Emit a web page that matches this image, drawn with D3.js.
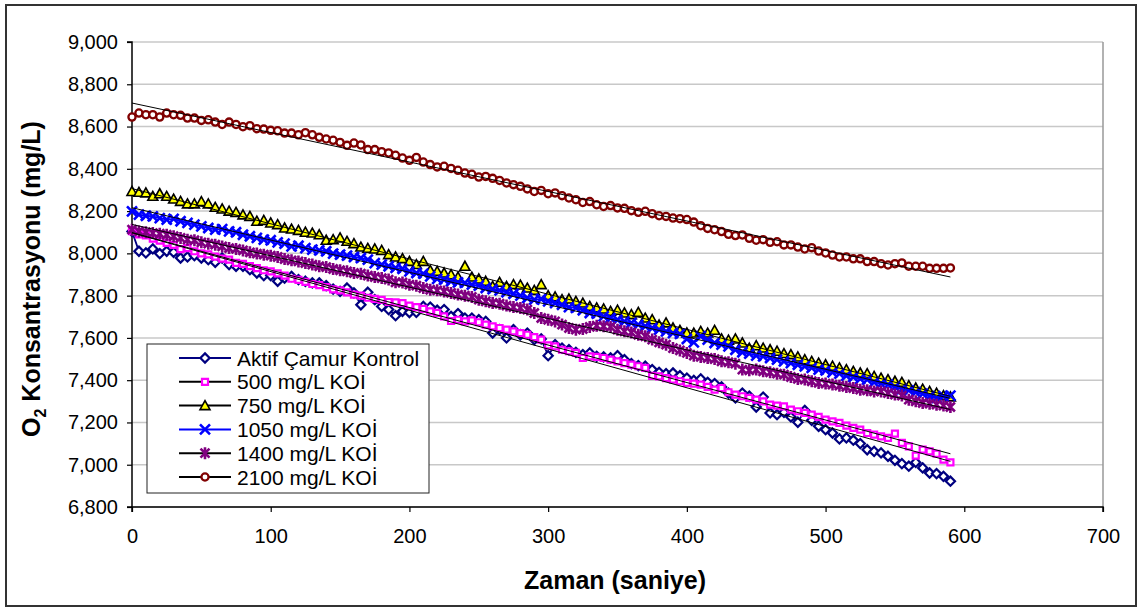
<!DOCTYPE html>
<html>
<head>
<meta charset="utf-8">
<script src="https://cdn.jsdelivr.net/npm/d3@7/dist/d3.min.js"></script>
<style>
  body { margin: 0; background: #fff; }
  text { font-family: Arial, "Liberation Sans", sans-serif; }
</style>
</head>
<body>
<script>
// zaman (saniye), her 5 saniyede bir okuma
var zaman = [0,5,10,15,20,25,30,35,40,45,50,55,60,65,70,75,80,85,90,95,
  100,105,110,115,120,125,130,135,140,145,150,155,160,165,170,175,180,185,190,195,
  200,205,210,215,220,225,230,235,240,245,250,255,260,265,270,275,280,285,290,295,
  300,305,310,315,320,325,330,335,340,345,350,355,360,365,370,375,380,385,390,395,
  400,405,410,415,420,425,430,435,440,445,450,455,460,465,470,475,480,485,490,495,
  500,505,510,515,520,525,530,535,540,545,550,555,560,565,570,575,580,585,590];

var aktif = [8104,8010,8002,8021,7999,8010,8005,7978,7983,7989,7978,7970,7958,7978,7947,7939,7939,7923,7907,7895,
  7895,7868,7883,7891,7876,7868,7860,7860,7847,7831,7820,7836,7813,7757,7816,7781,7749,7734,7705,7726,
  7720,7721,7749,7746,7731,7734,7702,7715,7694,7694,7686,7678,7623,7639,7600,7639,7615,7623,7592,7595,
  7516,7568,7552,7544,7532,7521,7529,7513,7510,7505,7516,7497,7478,7469,7466,7450,7437,7431,7434,7421,
  7410,7399,7406,7390,7384,7368,7339,7316,7339,7324,7273,7320,7245,7237,7248,7226,7201,7257,7210,7182,
  7166,7150,7122,7127,7116,7100,7071,7063,7056,7040,7021,7005,6993,7011,6985,6961,6958,6945,6922];

var koi500 = [8105,8090,8085,8070,8060,8050,8040,8020,8025,8010,8000,7995,7985,7975,7970,7955,7950,7940,7930,7920,
  7915,7905,7895,7880,7875,7865,7855,7850,7840,7830,7825,7815,7805,7800,7790,7785,7780,7770,7768,7765,
  7753,7746,7737,7726,7718,7702,7680,7686,7678,7683,7674,7663,7655,7647,7639,7631,7623,7615,7604,7592,
  7565,7560,7544,7537,7529,7505,7513,7510,7505,7497,7489,7481,7474,7466,7458,7420,7418,7410,7403,7395,
  7387,7384,7379,7368,7355,7363,7343,7332,7324,7316,7308,7300,7284,7280,7276,7261,7253,7245,7237,7226,
  7213,7205,7198,7185,7174,7166,7150,7142,7134,7127,7147,7103,7087,7043,7071,7063,7052,7024,7011];

var koi750 = [8293,8289,8286,8270,8282,8270,8257,8246,8234,8234,8245,8234,8218,8210,8200,8194,8182,8175,8152,8156,
  8144,8136,8120,8115,8109,8100,8096,8088,8062,8065,8073,8057,8046,8030,8024,8021,8014,7994,7983,7975,
  7962,7947,7962,7920,7915,7907,7899,7888,7939,7888,7879,7868,7844,7863,7844,7852,7850,7836,7825,7852,
  7800,7794,7781,7784,7773,7765,7749,7742,7737,7726,7731,7718,7710,7721,7694,7686,7661,7671,7647,7636,
  7624,7623,7631,7623,7636,7595,7589,7595,7576,7552,7563,7552,7544,7537,7526,7521,7510,7497,7489,7481,
  7473,7466,7458,7450,7442,7434,7431,7418,7410,7403,7395,7390,7374,7363,7358,7347,7339,7327,7321];

var koi1050 = [8199,8183,8178,8175,8167,8160,8163,8152,8144,8136,8128,8120,8112,8115,8104,8100,8088,8081,8073,8065,
  8062,8052,8046,8033,8036,8025,8018,8014,8010,7999,7994,7989,7983,7978,7970,7954,7947,7939,7931,7927,
  7915,7907,7904,7891,7879,7876,7868,7863,7860,7852,7847,7836,7831,7825,7816,7809,7800,7789,7781,7784,
  7773,7765,7757,7746,7742,7731,7718,7715,7702,7694,7686,7678,7671,7663,7655,7647,7639,7631,7623,7619,
  7595,7579,7608,7592,7576,7568,7560,7544,7532,7526,7516,7513,7505,7497,7489,7481,7473,7466,7458,7450,
  7447,7437,7431,7421,7415,7406,7403,7390,7384,7379,7368,7358,7352,7343,7336,7324,7316,7324,7327];

var koi1400 = [8112,8104,8100,8096,8093,8088,8081,8073,8065,8062,8052,8046,8041,8033,8025,8021,8014,8005,7999,7994,
  7989,7983,7973,7967,7962,7954,7947,7939,7935,7926,7920,7915,7907,7904,7895,7888,7883,7876,7863,7862,
  7852,7847,7836,7828,7825,7820,7813,7805,7800,7794,7781,7773,7765,7762,7753,7746,7742,7734,7718,7694,
  7686,7678,7663,7647,7639,7642,7652,7658,7655,7652,7639,7631,7626,7615,7608,7592,7579,7568,7552,7541,
  7529,7516,7510,7505,7500,7489,7485,7478,7450,7447,7450,7442,7437,7431,7426,7415,7406,7403,7395,7387,
  7384,7379,7374,7368,7363,7355,7352,7347,7347,7339,7332,7327,7308,7300,7292,7289,7284,7280,7273];

var koi2100 = [8645,8664,8656,8656,8645,8664,8656,8653,8640,8640,8629,8632,8621,8610,8621,8610,8599,8604,8590,8588,
  8582,8580,8569,8569,8561,8571,8561,8549,8541,8535,8525,8511,8522,8513,8491,8491,8481,8475,8464,8451,
  8440,8454,8432,8420,8409,8412,8402,8393,8380,8374,8361,8364,8355,8345,8333,8325,8317,8305,8293,8298,
  8282,8286,8273,8262,8254,8241,8245,8230,8222,8226,8215,8213,8202,8194,8199,8188,8178,8175,8167,8164,
  8160,8148,8131,8118,8112,8103,8090,8084,8087,8071,8062,8065,8052,8055,8040,8040,8030,8021,8027,8011,
  8002,7992,7983,7983,7974,7974,7961,7961,7951,7945,7951,7955,7939,7939,7939,7929,7929,7929,7931];

var seriAdlari = ["Aktif Çamur Kontrol", "500 mg/L KOİ", "750 mg/L KOİ", "1050 mg/L KOİ", "1400 mg/L KOİ", "2100 mg/L KOİ"];
var yTikler = [6800,7000,7200,7400,7600,7800,8000,8200,8400,8600,8800,9000];
var xTikler = [0,100,200,300,400,500,600,700];

// görünüm
var width = 1142, height = 608;
var alan = { sol: 132, sag: 1103, ust: 42, alt: 507 };

var seriler = [
  { veri: aktif,   isaret: "elmas",  renk: "#000080", dolgu: "#fff",    kalin: 2.2, cizgi: "#000080", seriCizgi: true },
  { veri: koi500,  isaret: "kare",   renk: "#ff00ff", dolgu: "#fff",    kalin: 2.2, cizgi: "#000",    seriCizgi: false },
  { veri: koi750,  isaret: "ucgen",  renk: "#000",    dolgu: "#ffff00", kalin: 1.6, cizgi: "#000",    seriCizgi: false },
  { veri: koi1050, isaret: "carpi",  renk: "#0000ff", dolgu: "none",    kalin: 2.6, cizgi: "#0000ff", seriCizgi: true },
  { veri: koi1400, isaret: "yildiz", renk: "#800080", dolgu: "none",    kalin: 2.6, cizgi: "#000",    seriCizgi: false },
  { veri: koi2100, isaret: "daire",  renk: "#800000", dolgu: "#fff",    kalin: 2.3, cizgi: "#000",    seriCizgi: false }
];

var isaretYollari = {
  elmas:  "M0,-4.6L4.6,0L0,4.6L-4.6,0Z",
  kare:   "M-3,-3H3V3H-3Z",
  ucgen:  "M0,-5L5,4H-5Z",
  carpi:  "M-5,-5L5,5M5,-5L-5,5",
  yildiz: "M-4.5,-4.5L4.5,4.5M4.5,-4.5L-4.5,4.5M0,-6V6",
  daire:  "M3.6,0A3.6,3.6 0 1,1 -3.6,0A3.6,3.6 0 1,1 3.6,0Z"
};

var svg = d3.select("body").append("svg")
  .attr("width", width)
  .attr("height", height);

svg.append("rect").attr("width", width).attr("height", height).attr("fill", "#fff");

// dış çerçeve
svg.append("rect")
  .attr("x", 6).attr("y", 5)
  .attr("width", 1130).attr("height", 601)
  .attr("fill", "none").attr("stroke", "#333").attr("stroke-width", 2);

var escalaX = d3.scaleLinear().domain([0, 700]).range([alan.sol, alan.sag]);
var escalaY = d3.scaleLinear().domain([6800, 9000]).range([alan.alt, alan.ust]);

// ızgara çizgileri
svg.append("g").selectAll("line")
  .data(yTikler)
  .join("line")
  .attr("x1", alan.sol).attr("x2", alan.sag)
  .attr("y1", d => escalaY(d)).attr("y2", d => escalaY(d))
  .attr("stroke", "#c8c8c8").attr("stroke-width", 1.5);

// sağ kenar
svg.append("line")
  .attr("x1", alan.sag).attr("x2", alan.sag)
  .attr("y1", alan.ust).attr("y2", alan.alt)
  .attr("stroke", "#999").attr("stroke-width", 1.5);

// eksenler
var ejeY = d3.axisLeft(escalaY).tickValues(yTikler).tickFormat(d3.format(",")).tickSize(5).tickPadding(9);
var gY = svg.append("g").attr("transform", "translate(" + alan.sol + ",0)").call(ejeY);

var ejeX = d3.axisBottom(escalaX).tickValues(xTikler).tickSize(5).tickPadding(17);
var gX = svg.append("g").attr("transform", "translate(0," + alan.alt + ")").call(ejeX);

[gX, gY].forEach(function (g) {
  g.select(".domain").attr("stroke", "#000").attr("stroke-width", 1.5);
  g.selectAll(".tick line").attr("stroke", "#000").attr("stroke-width", 1.2);
  g.selectAll(".tick text").attr("fill", "#000").style("font-size", "20px");
});
gY.select(".domain").attr("d", "M-5," + alan.ust + "H0V" + alan.alt + "H-5");
gX.select(".domain").attr("d", "M" + alan.sol + ",5V0H" + alan.sag + "V5");

// seri çizgileri
var linea = d3.line().x((d, i) => escalaX(zaman[i])).y(d => escalaY(d));
var gSeri = svg.append("g");
seriler.forEach(function (s) {
  if (s.seriCizgi) {
    gSeri.append("path")
      .attr("d", linea(s.veri))
      .attr("fill", "none")
      .attr("stroke", s.cizgi)
      .attr("stroke-width", 1.8);
  }
  gSeri.append("g").selectAll("path")
    .data(s.veri)
    .join("path")
    .attr("transform", (d, i) => "translate(" + escalaX(zaman[i]) + "," + escalaY(d) + ")")
    .attr("d", isaretYollari[s.isaret])
    .attr("fill", s.dolgu)
    .attr("stroke", s.renk)
    .attr("stroke-width", s.kalin)
    .attr("stroke-linejoin", "miter");
});

// doğrusal eğilim çizgileri (en küçük kareler)
function egilim(veri) {
  var n = veri.length;
  var mx = d3.mean(zaman), my = d3.mean(veri);
  var sxy = 0, sxx = 0;
  for (var i = 0; i < n; i++) {
    sxy += (zaman[i] - mx) * (veri[i] - my);
    sxx += (zaman[i] - mx) * (zaman[i] - mx);
  }
  var b = sxy / sxx;
  return { a: my - b * mx, b: b };
}
var tMax = d3.max(zaman);
seriler.forEach(function (s) {
  var e = egilim(s.veri);
  svg.append("line")
    .attr("x1", escalaX(0)).attr("y1", escalaY(e.a))
    .attr("x2", escalaX(tMax)).attr("y2", escalaY(e.a + e.b * tMax))
    .attr("stroke", "#000").attr("stroke-width", 1);
});

// lejant
var lejant = svg.append("g");
lejant.append("rect")
  .attr("x", 147).attr("y", 344)
  .attr("width", 282).attr("height", 149)
  .attr("fill", "#fff").attr("stroke", "#222").attr("stroke-width", 1);

seriler.forEach(function (s, i) {
  var yy = 358 + i * 23.8;
  lejant.append("line")
    .attr("x1", 179).attr("x2", 231).attr("y1", yy).attr("y2", yy)
    .attr("stroke", s.cizgi).attr("stroke-width", 2);
  lejant.append("path")
    .attr("transform", "translate(205," + yy + ")")
    .attr("d", isaretYollari[s.isaret])
    .attr("fill", s.dolgu)
    .attr("stroke", s.renk)
    .attr("stroke-width", s.kalin);
  lejant.append("text")
    .attr("x", 237).attr("y", yy).attr("dy", "0.36em")
    .style("font-size", "21px")
    .text(seriAdlari[i]);
});

// eksen başlıkları
svg.append("text")
  .attr("x", 615).attr("y", 589)
  .attr("text-anchor", "middle")
  .style("font-size", "25px").style("font-weight", "bold")
  .text("Zaman (saniye)");

var tituloY = svg.append("text")
  .attr("transform", "translate(40,279) rotate(-90)")
  .attr("text-anchor", "middle")
  .style("font-size", "25px").style("font-weight", "bold");
tituloY.append("tspan").text("O");
tituloY.append("tspan").attr("dy", 6).style("font-size", "16px").text("2");
tituloY.append("tspan").attr("dy", -6).text(" Konsantrasyonu (mg/L)");
</script>
</body>
</html>
